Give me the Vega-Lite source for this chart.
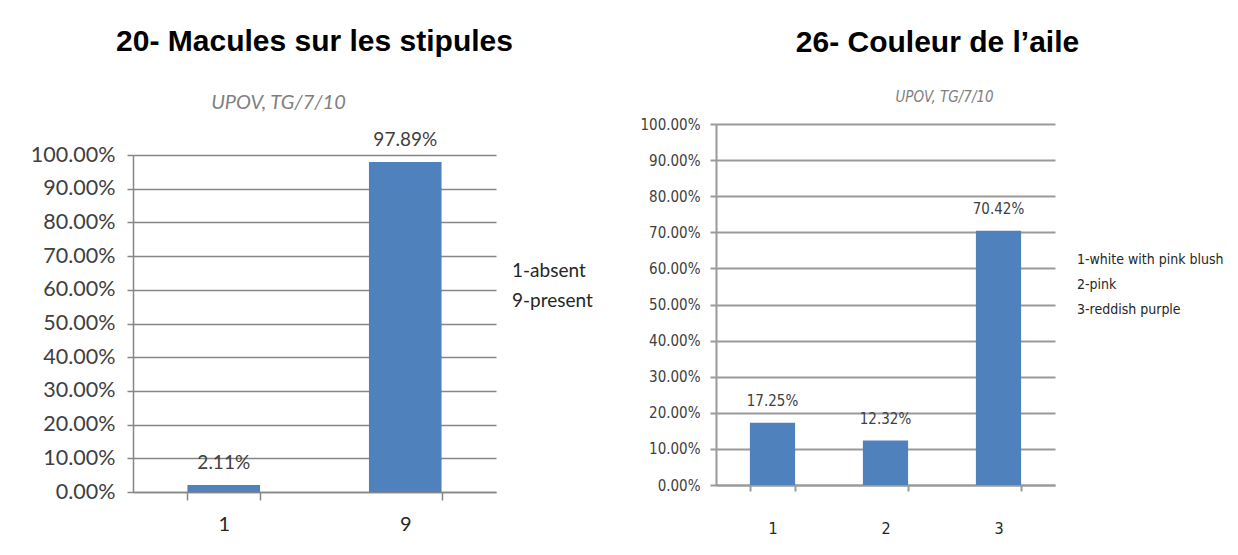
{
  "$schema": "https://vega.github.io/schema/vega-lite/v6.json",
  "background": "white",
  "padding": {"left": 30, "top": 27, "right": 5, "bottom": 5},
  "spacing": 46,
  "resolve": {
    "scale": {"color": "independent", "x": "independent", "y": "independent"},
    "legend": {"color": "independent"}
  },
  "config": {
    "view": {"stroke": null},
    "title": {"font": "Liberation Sans", "fontWeight": "bold", "fontSize": 30, "color": "#000000", "anchor": "middle", "baseline": "alphabetic"}
  },
  "hconcat": [
    {
      "width": 363,
      "height": 368,
      "title": {"text": "20- Macules sur les stipules", "dx": 0, "offset": 35},
      "data": {"values": [
        {"code": "1", "pct": 0.0211, "legend": "1-absent"},
        {"code": "9", "pct": 0.9789, "legend": "9-present"}
      ]},
      "resolve": {"axis": {"x": "independent"}},
      "encoding": {
        "y": {"field": "pct", "type": "quantitative",
          "scale": {"domain": [0, 1], "nice": false, "range": [368, 31]},
          "axis": {"title": null, "format": ".2%", "values": [0, 0.1, 0.2, 0.3, 0.4, 0.5, 0.6, 0.7, 0.8, 0.9, 1], "tickCount": 11, "labelOverlap": false, "grid": true, "gridColor": "#868686", "gridWidth": 1.5, "domainColor": "#868686", "domainWidth": 1.5, "tickColor": "#868686", "tickWidth": 1.5, "tickSize": 6, "labelPadding": 12, "labelFont": "Lato", "labelFontSize": 21.5, "labelColor": "#404040"}}
      },
      "layer": [
        {
          "mark": {"type": "bar", "color": "#4f81bd"},
          "encoding": {
            "x": {"field": "code", "type": "nominal", "sort": null,
              "scale": {"paddingInner": 0.6, "paddingOuter": 0.3},
              "axis": {"title": null, "labelAngle": 0, "tickBand": "extent", "tickSize": 8, "tickColor": "#868686", "domainColor": "#868686", "domainWidth": 1.5, "tickWidth": 1.5, "labelPadding": 14, "labelFont": "Lato", "labelFontSize": 20, "labelColor": "#262626"}},
            "color": {"field": "legend", "type": "nominal",
              "scale": {"range": ["#4f81bd", "#4f81bd"]},
              "legend": {"title": null, "orient": "none", "legendX": 360, "legendY": 137, "padding": 0, "symbolSize": 0, "symbolOpacity": 0, "symbolStrokeWidth": 0, "labelOffset": 0, "rowPadding": 10, "labelFont": "Lato", "labelFontSize": 19, "labelColor": "#262626", "labelLimit": 300}}
          }
        },
        {
          "mark": {"type": "text", "dy": -22, "baseline": "middle", "font": "Lato", "fontSize": 19, "color": "#404040"},
          "encoding": {
            "x": {"field": "code", "type": "nominal", "sort": null,
              "axis": {"orient": "top", "labels": false, "ticks": false, "domain": false, "grid": false, "title": "UPOV, TG/7/10", "titleX": 145, "titleY": -22, "titleAlign": "center", "titleBaseline": "middle", "titleFont": "Lato", "titleFontStyle": "italic", "titleFontWeight": "normal", "titleFontSize": 20, "titleColor": "#7f7f7f"}},
            "text": {"field": "pct", "type": "quantitative", "format": ".2%"}
          }
        }
      ]
    },
    {
      "width": 339,
      "height": 361,
      "title": {"text": "26- Couleur de l’aile", "dx": 52, "offset": 31},
      "data": {"values": [
        {"code": "1", "pct": 0.1725, "legend": "1-white with pink blush"},
        {"code": "2", "pct": 0.1232, "legend": "2-pink"},
        {"code": "3", "pct": 0.7042, "legend": "3-reddish purple"}
      ]},
      "resolve": {"axis": {"x": "independent"}},
      "encoding": {
        "y": {"field": "pct", "type": "quantitative",
          "scale": {"domain": [0, 1], "nice": false},
          "axis": {"title": null, "format": ".2%", "values": [0, 0.1, 0.2, 0.3, 0.4, 0.5, 0.6, 0.7, 0.8, 0.9, 1], "tickCount": 11, "labelOverlap": false, "grid": true, "gridColor": "#9a9a9a", "gridWidth": 2, "domainColor": "#9a9a9a", "domainWidth": 2, "tickColor": "#9a9a9a", "tickWidth": 2, "tickSize": 6, "labelPadding": 10, "labelFont": "DejaVu Sans Condensed, Lato, sans-serif", "labelFontSize": 15, "labelColor": "#404040"}}
      },
      "layer": [
        {
          "mark": {"type": "bar", "color": "#4f81bd"},
          "encoding": {
            "x": {"field": "code", "type": "nominal", "sort": null,
              "scale": {"paddingInner": 0.6, "paddingOuter": 0.3},
              "axis": {"title": null, "labelAngle": 0, "tickBand": "extent", "tickSize": 6, "tickColor": "#9a9a9a", "domainColor": "#9a9a9a", "domainWidth": 2, "tickWidth": 2, "labelPadding": 29, "labelFont": "DejaVu Sans Condensed, Lato, sans-serif", "labelFontSize": 16, "labelColor": "#262626"}},
            "color": {"field": "legend", "type": "nominal",
              "scale": {"range": ["#4f81bd", "#4f81bd", "#4f81bd"]},
              "legend": {"title": null, "orient": "none", "legendX": 347, "legendY": 129, "padding": 0, "symbolSize": 0, "symbolOpacity": 0, "symbolStrokeWidth": 0, "labelOffset": 0, "rowPadding": 11, "labelFont": "DejaVu Sans Condensed, Lato, sans-serif", "labelFontSize": 14, "labelColor": "#262626", "labelLimit": 300}}
          }
        },
        {
          "mark": {"type": "text", "dy": -22, "baseline": "middle", "font": "DejaVu Sans Condensed, Lato, sans-serif", "fontSize": 15, "color": "#404040"},
          "encoding": {
            "x": {"field": "code", "type": "nominal", "sort": null,
              "axis": {"orient": "top", "labels": false, "ticks": false, "domain": false, "grid": false, "title": "UPOV, TG/7/10", "titleX": 228, "titleY": -28, "titleAlign": "center", "titleBaseline": "middle", "titleFont": "DejaVu Sans Condensed, Lato, sans-serif", "titleFontStyle": "italic", "titleFontWeight": "normal", "titleFontSize": 15, "titleColor": "#7f7f7f"}},
            "text": {"field": "pct", "type": "quantitative", "format": ".2%"}
          }
        }
      ]
    }
  ]
}
